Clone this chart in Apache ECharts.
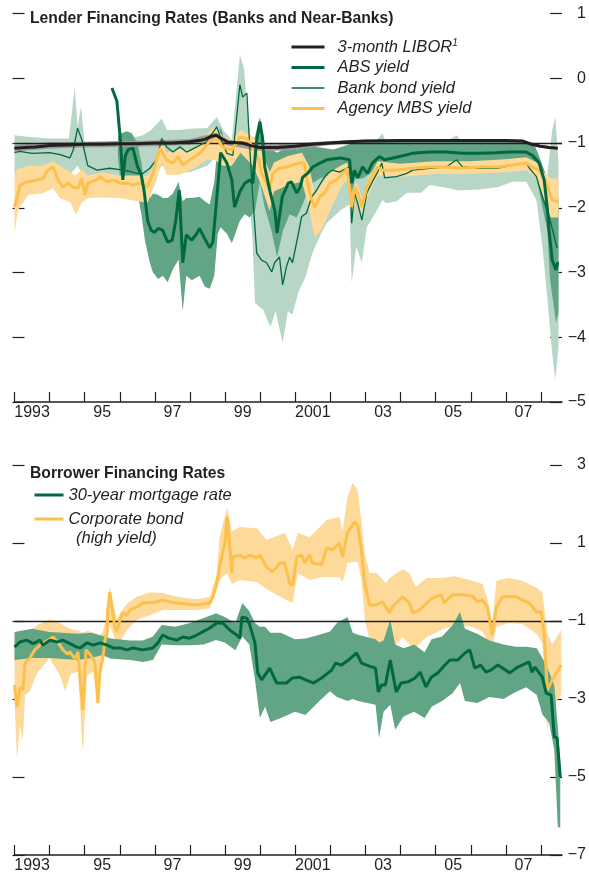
<!DOCTYPE html>
<html>
<head>
<meta charset="UTF-8">
<title>Lender and Borrower Financing Rates</title>
<script src="https://cdn.jsdelivr.net/npm/echarts@6.0.0/dist/echarts.min.js"></script>
<style>
    html, body { margin: 0; padding: 0; background: #fff; }
    #chart { width: 589px; height: 881px; }
</style>
</head>
<body>
<div id="chart"></div>
<script>
// ---- data (decimal year, value) ----
const years = ['1993','1994','1995','1996','1997','1998','1999','2000','2001','2002','2003','2004','2005','2006','2007'];
const xLabels = ['1993','','95','','97','','99','','2001','','03','','05','','07'];

// top panel
const liborLine = [[1993.0,-1.08],[1993.3,-1.07],[1993.6,-1.06],[1994.0,-1.04],[1994.5,-1.03],[1995.0,-1.02],[1995.5,-1.02],[1996.0,-1.01],[1996.5,-1.01],[1997.0,-1.0],[1997.5,-1.0],[1998.0,-0.98],[1998.4,-0.95],[1998.6,-0.9],[1998.75,-0.88],[1998.9,-0.93],[1999.1,-0.99],[1999.5,-1.0],[1999.75,-1.04],[2000.0,-1.07],[2000.5,-1.07],[2001.0,-1.05],[2001.5,-1.02],[2002.0,-1.0],[2002.5,-0.98],[2003.0,-0.97],[2004.0,-0.96],[2005.0,-0.96],[2006.0,-0.96],[2007.0,-0.96],[2007.5,-0.97],[2007.75,-1.02],[2008.0,-1.05],[2008.25,-1.07],[2008.5,-1.08]];
const liborBand = [[1993.0,-1.13,-1.03],[1994.0,-1.09,-0.99],[1995.0,-1.07,-0.98],[1996.0,-1.06,-0.97],[1997.0,-1.05,-0.96],[1998.0,-1.03,-0.94],[1998.75,-0.93,-0.84],[1999.1,-1.04,-0.95],[1999.75,-1.1,-0.99],[2000.0,-1.12,-1.02],[2000.5,-1.12,-1.02],[2001.0,-1.1,-1.0],[2002.0,-1.03,-0.97],[2003.0,-0.99,-0.95],[2007.5,-0.99,-0.95],[2008.0,-1.07,-1.03],[2008.5,-1.1,-1.06]];

const absLine = [[1995.78,-0.15],[1995.92,-0.35],[1996.02,-0.95],[1996.09,-1.57],[1996.16,-1.2],[1996.25,-1.1],[1996.38,-1.08],[1996.5,-1.35],[1996.62,-1.5],[1996.7,-1.75],[1996.8,-2.2],[1996.9,-2.35],[1997.0,-2.38],[1997.1,-2.32],[1997.23,-2.35],[1997.37,-2.53],[1997.5,-2.5],[1997.6,-2.2],[1997.7,-1.73],[1997.8,-2.85],[1997.9,-2.42],[1998.06,-2.5],[1998.2,-2.4],[1998.28,-2.32],[1998.4,-2.45],[1998.57,-2.62],[1998.66,-2.53],[1998.77,-1.85],[1998.88,-1.15],[1999.06,-1.31],[1999.2,-1.57],[1999.28,-1.99],[1999.43,-1.75],[1999.57,-1.62],[1999.71,-1.57],[1999.8,-1.62],[1999.9,-1.0],[2000.0,-0.67],[2000.07,-0.9],[2000.14,-1.37],[2000.29,-1.75],[2000.43,-2.05],[2000.49,-2.39],[2000.64,-1.83],[2000.81,-1.62],[2000.9,-1.6],[2001.05,-1.77],[2001.15,-1.68],[2001.22,-1.53],[2001.36,-1.47],[2001.51,-1.37],[2001.71,-1.31],[2001.91,-1.26],[2002.28,-1.23],[2002.56,-1.26],[2002.62,-1.62],[2002.7,-1.42],[2002.79,-1.54],[2002.93,-1.37],[2003.07,-1.47],[2003.21,-1.31],[2003.41,-1.21],[2003.56,-1.26],[2003.9,-1.22],[2004.35,-1.16],[2004.84,-1.14],[2005.32,-1.14],[2005.78,-1.16],[2006.27,-1.16],[2006.75,-1.15],[2007.12,-1.14],[2007.6,-1.14],[2007.77,-1.19],[2007.97,-1.31],[2008.11,-1.57],[2008.2,-2.0],[2008.25,-2.35],[2008.34,-2.81],[2008.45,-2.96],[2008.5,-2.84]];
const absBand = [[1995.95,-1.2,-0.9],[1996.05,-1.75,-0.85],[1996.2,-1.8,-0.82],[1996.35,-1.7,-0.85],[1996.5,-1.75,-1.0],[1996.62,-2.1,-1.3],[1996.72,-2.5,-1.75],[1996.86,-2.85,-1.85],[1996.95,-3.0,-1.78],[1997.1,-3.1,-1.8],[1997.23,-3.05,-1.85],[1997.37,-3.15,-1.85],[1997.52,-2.95,-1.78],[1997.68,-2.8,-1.6],[1997.8,-3.6,-1.9],[1997.9,-3.05,-1.85],[1998.06,-3.12,-1.85],[1998.28,-3.05,-1.83],[1998.43,-3.22,-1.9],[1998.57,-3.25,-1.95],[1998.7,-3.05,-1.6],[1998.8,-2.4,-1.0],[1998.88,-2.3,-0.75],[1999.06,-2.4,-1.1],[1999.2,-2.55,-1.15],[1999.43,-2.2,-1.1],[1999.57,-2.1,-1.1],[1999.71,-2.15,-1.1],[1999.86,-2.05,-0.9],[2000.0,-1.6,-0.6],[2000.14,-2.0,-1.0],[2000.33,-2.35,-1.1],[2000.49,-2.76,-1.15],[2000.66,-2.35,-1.1],[2000.85,-2.1,-1.05],[2001.05,-2.15,-1.1],[2001.22,-1.95,-1.05],[2001.43,-1.65,-1.05],[2001.71,-1.55,-1.07],[2002.1,-1.47,-1.1],[2002.56,-1.45,-1.02],[2002.62,-1.78,-1.0],[2002.72,-1.55,-1.0],[2002.93,-1.55,-0.98],[2003.2,-1.45,-0.97],[2003.41,-1.39,-0.95],[2004.0,-1.37,-0.95],[2004.84,-1.31,-0.95],[2005.5,-1.33,-0.95],[2006.3,-1.31,-0.95],[2007.0,-1.31,-0.95],[2007.6,-1.31,-0.97],[2007.85,-1.42,-1.05],[2008.0,-1.83,-1.25],[2008.2,-2.35,-1.55],[2008.28,-3.12,-1.65],[2008.4,-3.58,-1.7],[2008.45,-3.78,-1.73],[2008.52,-3.62,-1.85]];

const bankLine = [[1993.0,-1.15],[1993.15,-1.13],[1993.5,-1.16],[1994.0,-1.15],[1994.3,-1.18],[1994.58,-1.23],[1994.68,-1.1],[1994.8,-0.77],[1994.92,-0.95],[1995.09,-1.35],[1995.35,-1.42],[1995.72,-1.39],[1996.0,-1.41],[1996.29,-1.44],[1996.49,-1.47],[1996.66,-1.47],[1996.86,-1.39],[1997.06,-1.25],[1997.2,-0.93],[1997.34,-1.06],[1997.52,-1.14],[1997.72,-1.06],[1997.91,-1.14],[1998.2,-1.06],[1998.48,-0.98],[1998.77,-0.75],[1998.91,-0.97],[1999.06,-1.16],[1999.23,-1.19],[1999.43,-0.1],[1999.51,-0.29],[1999.63,-0.23],[1999.71,-1.06],[1999.79,-1.77],[1999.91,-2.7],[2000.05,-2.81],[2000.19,-2.85],[2000.34,-2.99],[2000.42,-2.85],[2000.56,-2.76],[2000.65,-3.19],[2000.76,-2.91],[2000.85,-2.76],[2000.93,-2.85],[2001.08,-2.45],[2001.19,-2.14],[2001.33,-2.08],[2001.48,-1.83],[2001.62,-1.73],[2001.79,-1.57],[2001.93,-1.47],[2002.07,-1.42],[2002.27,-1.45],[2002.47,-1.39],[2002.56,-1.37],[2002.62,-2.24],[2002.7,-1.77],[2002.79,-1.93],[2002.91,-2.19],[2003.05,-1.77],[2003.19,-1.62],[2003.34,-1.47],[2003.48,-1.31],[2003.56,-1.54],[2003.9,-1.52],[2004.19,-1.47],[2004.36,-1.42],[2004.84,-1.39],[2005.32,-1.37],[2005.61,-1.26],[2005.78,-1.37],[2006.27,-1.39],[2006.75,-1.39],[2007.2,-1.34],[2007.6,-1.31],[2007.69,-1.39],[2007.89,-1.52],[2008.06,-1.83],[2008.26,-2.15],[2008.4,-2.45],[2008.48,-2.62]];
const bankBand = [[1993.0,-1.5,-0.88],[1993.3,-1.45,-0.9],[1994.0,-1.45,-0.93],[1994.55,-1.5,-0.93],[1994.72,-1.4,-0.14],[1994.8,-1.35,-0.75],[1994.9,-1.45,-0.44],[1995.0,-1.6,-1.0],[1995.3,-1.7,-1.0],[1996.0,-1.7,-0.97],[1996.66,-1.75,-0.88],[1996.9,-1.6,-0.8],[1997.2,-1.35,-0.62],[1997.35,-1.4,-0.8],[1997.7,-1.45,-0.8],[1998.0,-1.45,-0.78],[1998.5,-1.35,-0.77],[1998.77,-1.2,-0.6],[1998.95,-1.4,-0.8],[1999.2,-1.5,-0.95],[1999.43,-1.2,0.36],[1999.55,-1.4,0.15],[1999.65,-1.5,-0.6],[1999.79,-2.5,-1.1],[1999.86,-3.47,-1.1],[2000.1,-3.58,-1.15],[2000.3,-3.84,-1.15],[2000.45,-3.6,-1.15],[2000.65,-4.09,-1.15],[2000.8,-3.6,-1.15],[2000.93,-3.65,-1.15],[2001.1,-3.3,-1.1],[2001.3,-3.07,-1.1],[2001.5,-2.7,-1.1],[2001.7,-2.45,-1.1],[2001.9,-2.24,-1.1],[2002.1,-2.14,-1.1],[2002.3,-2.04,-1.1],[2002.56,-1.95,-1.05],[2002.62,-3.16,-1.1],[2002.75,-2.6,-1.1],[2002.91,-2.85,-1.1],[2003.05,-2.3,-1.05],[2003.34,-2.04,-0.95],[2003.5,-1.88,-0.85],[2003.6,-1.93,-1.0],[2003.9,-1.9,-1.0],[2004.2,-1.77,-1.0],[2004.6,-1.77,-1.0],[2004.84,-1.65,-1.0],[2005.4,-1.7,-0.95],[2005.61,-1.73,-0.88],[2005.78,-1.73,-1.0],[2006.27,-1.72,-1.0],[2006.8,-1.68,-1.0],[2007.2,-1.6,-1.0],[2007.6,-1.6,-1.0],[2007.89,-1.88,-1.1],[2008.06,-2.6,-1.4],[2008.2,-3.38,-1.5],[2008.34,-4.25,-0.8],[2008.43,-4.66,-0.6],[2008.52,-4.15,-1.3]];

const mbsLine = [[1993.0,-1.99],[1993.16,-1.65],[1993.36,-1.6],[1993.64,-1.57],[1993.81,-1.55],[1993.95,-1.42],[1994.1,-1.37],[1994.24,-1.57],[1994.38,-1.68],[1994.52,-1.62],[1994.67,-1.68],[1994.81,-1.7],[1994.92,-1.55],[1995.01,-1.8],[1995.09,-1.62],[1995.35,-1.57],[1995.44,-1.52],[1995.64,-1.6],[1995.81,-1.57],[1996.01,-1.62],[1996.21,-1.62],[1996.38,-1.65],[1996.58,-1.62],[1996.78,-1.68],[1996.95,-1.47],[1997.15,-1.08],[1997.34,-1.26],[1997.52,-1.31],[1997.66,-1.21],[1997.8,-1.34],[1998.0,-1.26],[1998.2,-1.19],[1998.37,-1.11],[1998.57,-0.97],[1998.77,-0.93],[1998.94,-1.06],[1999.2,-1.11],[1999.43,-0.91],[1999.63,-0.93],[1999.79,-1.06],[1999.96,-1.24],[2000.05,-1.47],[2000.19,-1.62],[2000.28,-1.73],[2000.37,-1.47],[2000.56,-1.39],[2000.76,-1.37],[2000.93,-1.34],[2001.13,-1.31],[2001.27,-1.31],[2001.36,-1.62],[2001.48,-1.88],[2001.56,-2.0],[2001.71,-1.83],[2001.85,-1.77],[2002.0,-1.62],[2002.19,-1.57],[2002.36,-1.47],[2002.5,-1.39],[2002.62,-1.99],[2002.7,-1.68],[2002.79,-1.77],[2002.91,-1.99],[2003.05,-1.68],[2003.19,-1.52],[2003.36,-1.37],[2003.5,-1.42],[2003.9,-1.42],[2004.36,-1.39],[2004.84,-1.37],[2005.32,-1.37],[2005.78,-1.39],[2006.27,-1.37],[2006.75,-1.37],[2007.2,-1.34],[2007.6,-1.31],[2007.77,-1.37],[2007.97,-1.42],[2008.17,-1.62],[2008.34,-1.88],[2008.5,-1.91]];
const mbsBand = [[1993.0,-2.4,-1.45],[1993.1,-2.04,-1.4],[1993.4,-1.8,-1.35],[1993.8,-1.78,-1.35],[1994.1,-1.7,-1.28],[1994.3,-1.85,-1.35],[1994.6,-1.92,-1.45],[1994.75,-2.11,-1.5],[1994.92,-1.92,-1.4],[1995.1,-1.85,-1.5],[1995.5,-1.84,-1.45],[1996.0,-1.85,-1.5],[1996.5,-1.9,-1.5],[1996.8,-1.92,-1.5],[1997.05,-1.58,-1.3],[1997.2,-1.3,-0.96],[1997.34,-1.49,-1.15],[1997.7,-1.49,-1.1],[1998.1,-1.4,-1.1],[1998.5,-1.26,-0.85],[1998.7,-1.26,-0.75],[1998.95,-1.35,-0.9],[1999.2,-1.35,-0.95],[1999.45,-1.15,-0.8],[1999.8,-1.35,-0.9],[2000.0,-1.6,-1.05],[2000.28,-2.05,-1.45],[2000.4,-1.75,-1.3],[2000.8,-1.65,-1.2],[2001.2,-1.6,-1.15],[2001.4,-2.0,-1.35],[2001.56,-2.45,-1.75],[2001.75,-2.35,-1.65],[2002.0,-2.05,-1.45],[2002.3,-1.7,-1.35],[2002.5,-1.55,-1.3],[2002.62,-2.1,-1.85],[2002.75,-1.85,-1.6],[2002.91,-2.1,-1.85],[2003.1,-1.8,-1.55],[2003.36,-1.5,-1.28],[2004.0,-1.52,-1.32],[2005.0,-1.48,-1.28],[2006.0,-1.48,-1.28],[2007.0,-1.45,-1.25],[2007.6,-1.42,-1.22],[2007.9,-1.55,-1.3],[2008.1,-1.85,-1.45],[2008.3,-2.15,-1.55],[2008.52,-2.15,-1.55]];

// bottom panel
const mortgageLine = [[1993.0,-1.67],[1993.15,-1.54],[1993.35,-1.49],[1993.53,-1.58],[1993.73,-1.49],[1993.81,-1.62],[1994.01,-1.49],[1994.21,-1.54],[1994.38,-1.49],[1994.58,-1.58],[1994.78,-1.67],[1994.87,-1.69],[1995.07,-1.56],[1995.24,-1.62],[1995.44,-1.56],[1995.64,-1.62],[1995.81,-1.69],[1996.01,-1.69],[1996.21,-1.74],[1996.38,-1.69],[1996.66,-1.74],[1996.95,-1.69],[1997.09,-1.56],[1997.23,-1.36],[1997.4,-1.44],[1997.63,-1.49],[1997.8,-1.41],[1998.0,-1.44],[1998.2,-1.36],[1998.37,-1.28],[1998.57,-1.18],[1998.77,-1.05],[1998.94,-1.05],[1999.14,-1.23],[1999.34,-1.36],[1999.43,-1.44],[1999.49,-0.9],[1999.63,-0.93],[1999.71,-1.1],[1999.86,-1.56],[1999.94,-2.33],[2000.05,-2.51],[2000.19,-2.33],[2000.28,-2.21],[2000.48,-2.59],[2000.76,-2.59],[2000.93,-2.46],[2001.13,-2.44],[2001.3,-2.51],[2001.53,-2.59],[2001.76,-2.46],[2002.05,-2.26],[2002.16,-2.08],[2002.33,-2.13],[2002.53,-2.0],[2002.76,-1.82],[2002.9,-2.08],[2003.1,-2.15],[2003.3,-2.21],[2003.38,-2.82],[2003.47,-2.64],[2003.58,-2.64],[2003.72,-2.0],[2003.89,-2.82],[2004.03,-2.59],[2004.23,-2.56],[2004.43,-2.46],[2004.57,-2.31],[2004.74,-2.69],[2004.89,-2.44],[2005.08,-2.33],[2005.28,-2.13],[2005.42,-2.0],[2005.65,-2.0],[2005.85,-1.82],[2005.99,-1.74],[2006.13,-2.21],[2006.3,-2.13],[2006.45,-2.31],[2006.59,-2.26],[2006.79,-2.13],[2007.13,-2.33],[2007.36,-2.18],[2007.56,-2.1],[2007.68,-2.05],[2007.76,-2.31],[2007.85,-2.18],[2007.91,-2.26],[2008.06,-2.44],[2008.17,-2.85],[2008.31,-2.9],[2008.4,-3.97],[2008.48,-4.0],[2008.57,-5.0]];
const mortgageBand = [[1993.0,-2.0,-1.28],[1993.5,-1.95,-1.2],[1994.0,-1.95,-1.28],[1994.8,-2.0,-1.33],[1995.2,-1.95,-1.3],[1995.5,-1.87,-1.38],[1995.75,-1.97,-1.45],[1996.3,-2.0,-1.5],[1996.66,-2.05,-1.5],[1996.95,-2.0,-1.4],[1997.2,-1.6,-1.1],[1997.6,-1.62,-1.15],[1998.0,-1.62,-1.05],[1998.4,-1.6,-0.92],[1998.75,-1.49,-0.8],[1999.0,-1.55,-0.9],[1999.3,-1.75,-1.05],[1999.5,-1.4,-0.54],[1999.7,-1.6,-0.75],[1999.86,-2.5,-1.05],[2000.0,-3.49,-1.15],[2000.15,-3.2,-1.15],[2000.3,-3.59,-1.3],[2000.6,-3.49,-1.3],[2001.0,-3.33,-1.47],[2001.3,-3.41,-1.45],[2001.7,-3.05,-1.35],[2002.0,-2.8,-1.27],[2002.2,-2.95,-1.05],[2002.5,-3.05,-0.9],[2002.65,-3.0,-1.3],[2002.8,-3.05,-1.35],[2003.3,-3.15,-1.47],[2003.4,-4.0,-1.55],[2003.53,-3.33,-1.5],[2003.72,-3.15,-0.97],[2003.86,-3.79,-1.6],[2004.1,-3.45,-1.7],[2004.4,-3.33,-1.6],[2004.7,-3.49,-1.8],[2004.9,-3.2,-1.47],[2005.2,-3.05,-1.4],[2005.5,-2.85,-1.1],[2005.71,-2.59,-0.77],[2005.85,-3.05,-1.2],[2006.2,-3.1,-1.33],[2006.55,-2.95,-1.5],[2006.95,-3.0,-1.6],[2007.3,-2.82,-1.66],[2007.6,-2.7,-1.66],[2007.9,-2.9,-1.7],[2008.06,-3.4,-1.95],[2008.25,-3.6,-2.3],[2008.4,-4.3,-2.65],[2008.5,-6.28,-3.72],[2008.57,-6.3,-4.6]];

const corpLine = [[1993.0,-2.64],[1993.07,-3.2],[1993.16,-2.7],[1993.24,-2.77],[1993.3,-2.08],[1993.44,-1.95],[1993.58,-1.74],[1993.73,-1.62],[1993.95,-1.5],[1994.1,-1.41],[1994.3,-1.62],[1994.38,-1.74],[1994.52,-1.85],[1994.58,-1.79],[1994.72,-1.97],[1994.81,-1.79],[1994.95,-3.28],[1995.04,-1.74],[1995.15,-1.85],[1995.29,-2.05],[1995.38,-3.1],[1995.44,-2.3],[1995.52,-1.95],[1995.58,-1.5],[1995.64,-1.31],[1995.66,-0.72],[1995.72,-0.26],[1995.78,-0.64],[1995.86,-1.15],[1995.92,-1.28],[1996.01,-0.97],[1996.09,-0.79],[1996.21,-0.85],[1996.29,-0.72],[1996.49,-0.64],[1996.66,-0.54],[1997.06,-0.51],[1997.23,-0.46],[1997.43,-0.51],[1997.63,-0.54],[1998.2,-0.59],[1998.57,-0.54],[1998.66,-0.38],[1998.77,-0.03],[1998.85,0.38],[1999.0,1.0],[1999.07,1.67],[1999.14,0.9],[1999.2,0.23],[1999.23,0.64],[1999.43,0.69],[1999.57,0.62],[1999.72,0.69],[1999.91,0.62],[2000.0,0.69],[2000.19,0.38],[2000.36,0.26],[2000.48,0.38],[2000.56,0.49],[2000.71,0.49],[2000.85,-0.05],[2000.94,-0.08],[2001.05,0.64],[2001.19,0.69],[2001.28,0.49],[2001.42,0.69],[2001.5,0.49],[2001.76,0.44],[2001.91,0.87],[2002.07,0.82],[2002.27,1.0],[2002.36,0.64],[2002.5,1.26],[2002.7,1.54],[2002.79,1.46],[2002.9,0.82],[2002.99,-0.03],[2003.13,-0.59],[2003.33,-0.59],[2003.5,-0.51],[2003.7,-0.79],[2003.78,-0.64],[2004.07,-0.38],[2004.27,-0.54],[2004.36,-0.79],[2004.56,-0.72],[2004.76,-0.54],[2004.92,-0.41],[2005.17,-0.33],[2005.26,-0.54],[2005.49,-0.33],[2005.78,-0.33],[2006.06,-0.36],[2006.21,-0.51],[2006.35,-0.46],[2006.49,-0.64],[2006.63,-1.36],[2006.75,-0.64],[2006.92,-0.38],[2007.32,-0.38],[2007.49,-0.46],[2007.69,-0.54],[2007.89,-0.77],[2008.03,-0.77],[2008.11,-1.31],[2008.2,-2.77],[2008.34,-2.51],[2008.6,-2.13]];
const corpBand = [[1993.0,-3.0,-1.6],[1993.07,-4.56,-1.9],[1993.15,-3.7,-1.5],[1993.24,-4.05,-1.4],[1993.3,-2.9,-1.3],[1993.44,-2.8,-1.25],[1993.65,-2.33,-1.1],[1994.0,-1.95,-0.97],[1994.3,-2.4,-1.05],[1994.45,-2.8,-1.15],[1994.6,-2.35,-1.2],[1994.81,-2.3,-1.25],[1994.95,-4.38,-1.3],[1995.07,-2.4,-1.25],[1995.25,-2.3,-1.3],[1995.38,-3.2,-1.5],[1995.52,-1.8,-1.25],[1995.64,-1.5,-0.9],[1995.72,-1.1,-0.1],[1995.8,-1.3,-0.5],[1995.92,-1.6,-0.95],[1996.01,-1.54,-0.8],[1996.21,-1.23,-0.55],[1996.49,-0.97,-0.38],[1996.86,-0.85,-0.26],[1997.23,-0.72,-0.28],[1997.63,-0.72,-0.38],[1998.2,-0.72,-0.44],[1998.57,-0.67,-0.38],[1998.77,-0.2,0.2],[1998.85,0.05,1.15],[1999.07,0.23,1.92],[1999.2,-0.05,1.3],[1999.43,0.05,1.41],[1999.91,0.0,1.38],[2000.19,-0.18,1.08],[2000.71,-0.44,1.26],[2000.94,-0.54,0.82],[2001.08,0.23,1.26],[2001.42,0.05,1.15],[2001.8,0.13,1.49],[2001.91,0.13,1.59],[2002.27,0.13,1.67],[2002.36,0.0,1.3],[2002.5,0.49,2.18],[2002.65,0.51,2.54],[2002.79,0.51,2.36],[2002.9,0.05,1.51],[2003.0,-1.0,0.7],[2003.13,-1.49,0.23],[2003.33,-1.56,0.23],[2003.6,-1.67,-0.03],[2003.7,-1.82,0.1],[2004.07,-1.41,0.33],[2004.27,-1.6,0.23],[2004.45,-1.67,-0.13],[2004.76,-1.41,0.1],[2005.17,-1.23,0.1],[2005.55,-1.1,0.15],[2006.06,-1.15,0.03],[2006.35,-1.28,-0.05],[2006.49,-1.5,-0.41],[2006.63,-1.67,-1.05],[2006.75,-1.15,0.03],[2007.1,-1.05,0.1],[2007.49,-1.08,0.03],[2007.89,-1.33,-0.15],[2008.06,-1.56,-0.26],[2008.2,-3.79,-1.3],[2008.34,-3.2,-1.6],[2008.6,-2.9,-1.23]];

// ---- styling ----
const FONT = "'Liberation Sans', Arial, sans-serif";
const INK = '#231f20';
const GREEN = '#00693e';
const YELLOW = '#fcc04c';

const chart = echarts.init(document.getElementById('chart'));

// shaded range drawn as one polygon through the axis scales
function bandSeries(name, rows, color, xi, yi, z) {
    return {
        name: name, type: 'custom', xAxisIndex: xi, yAxisIndex: yi, z: z,
        silent: true, animation: false,
        encode: { x: 0, y: [1, 2] },
        data: rows,
        renderItem: function (params, api) {
            if (params.dataIndex !== 0) return null;
            const upper = rows.map(d => api.coord([d[0], d[2]]));
            const lower = rows.map(d => api.coord([d[0], d[1]])).reverse();
            return { type: 'polygon', shape: { points: upper.concat(lower) }, style: { fill: color } };
        }
    };
}

function lineSeries(name, rows, color, width, xi, yi, z) {
    return {
        name: name, type: 'line', xAxisIndex: xi, yAxisIndex: yi, z: z,
        data: rows, symbol: 'none', showSymbol: false, silent: true,
        lineStyle: { color: color, width: width }, itemStyle: { color: color }
    };
}

function refLine(width) {
    return {
        silent: true, symbol: ['none', 'none'], label: { show: false },
        lineStyle: { color: INK, width: width, type: 'solid' },
        data: [{ yAxis: -1 }]
    };
}

const minus = v => (v < 0 ? '\u2212' + Math.abs(v) : String(v));
const labelText = { fontFamily: FONT, fontSize: 16, color: INK };

function dataX(grid) {
    return {
        type: 'value', gridIndex: grid, min: 1993, max: 2008.62,
        axisLine: { show: true, onZero: false, lineStyle: { color: INK, width: 1.5 } },
        axisTick: { show: false }, axisLabel: { show: false }, splitLine: { show: false }
    };
}
function yearX(grid) {
    return {
        type: 'category', gridIndex: grid, data: years, boundaryGap: true,
        axisLine: { show: false, onZero: false },
        axisTick: { show: true, inside: true, length: 10, interval: 0, lineStyle: { color: INK, width: 1.2 } },
        axisLabel: Object.assign({ interval: 0, margin: 3, formatter: (v, i) => xLabels[i] }, labelText),
        splitLine: { show: false }
    };
}
function rightY(grid, min, max, step) {
    return {
        type: 'value', gridIndex: grid, position: 'right', min: min, max: max, interval: step,
        axisLine: { show: false },
        axisTick: { show: true, inside: true, length: 12, lineStyle: { color: INK, width: 1.2 } },
        axisLabel: Object.assign({ margin: 24, align: 'right', formatter: minus }, labelText),
        splitLine: { show: false }
    };
}
function leftY(grid, min, max, step) {
    return {
        type: 'value', gridIndex: grid, position: 'left', offset: 2, min: min, max: max, interval: step,
        axisLine: { show: false },
        axisTick: { show: true, inside: true, length: 12, lineStyle: { color: INK, width: 1.2 } },
        axisLabel: { show: false }, splitLine: { show: false }
    };
}

const legendText = {
    fontFamily: FONT, fontSize: 16.5, fontStyle: 'italic', color: INK, lineHeight: 20,
    rich: { sup: { fontFamily: FONT, fontSize: 10, fontStyle: 'italic', color: INK, padding: [0, 0, 8, 0] } }
};
const noDot = { opacity: 0 };

const option = {
    animation: false,
    backgroundColor: '#fff',
    title: [
        { text: 'Lender Financing Rates (Banks and Near-Banks)', left: 30, top: 11, padding: 0,
          textStyle: { fontFamily: FONT, fontSize: 15.7, fontWeight: 'bold', color: INK } },
        { text: 'Borrower Financing Rates', left: 30, top: 466, padding: 0,
          textStyle: { fontFamily: FONT, fontSize: 15.7, fontWeight: 'bold', color: INK } },
        { text: '(high yield)', left: 76, top: 530, padding: 0,
          textStyle: { fontFamily: FONT, fontSize: 16.5, fontStyle: 'italic', fontWeight: 'normal', color: INK } }
    ],
    legend: [
        {
            orient: 'vertical', left: 290, top: 37, itemWidth: 33, itemHeight: 14, itemGap: 0.5,
            selectedMode: false, padding: 0,
            textStyle: Object.assign({ padding: [0, 0, 0, 8] }, legendText),
            formatter: name => (name === '3-month LIBOR' ? '3-month LIBOR{sup|1}' : name),
            data: [
                { name: '3-month LIBOR', itemStyle: noDot, lineStyle: { width: 3, color: INK } },
                { name: 'ABS yield', itemStyle: noDot, lineStyle: { width: 3, color: GREEN } },
                { name: 'Bank bond yield', itemStyle: noDot, lineStyle: { width: 1.3, color: GREEN } },
                { name: 'Agency MBS yield', itemStyle: noDot, lineStyle: { width: 3, color: YELLOW } }
            ]
        },
        {
            orient: 'vertical', left: 33, top: 485, itemWidth: 29, itemHeight: 14, itemGap: 4,
            selectedMode: false, padding: 0,
            textStyle: legendText,
            data: [
                { name: '30-year mortgage rate', itemStyle: noDot, lineStyle: { width: 3, color: GREEN } },
                { name: 'Corporate bond', itemStyle: noDot, lineStyle: { width: 3, color: YELLOW } }
            ]
        }
    ],
    grid: [
        { left: 14.5, right: 26, top: 13.5, height: 388.5 },
        { left: 14.5, width: 526.5, top: 13.5, height: 388.5 },
        { left: 14.5, right: 26, top: 465, height: 390 },
        { left: 14.5, width: 526.5, top: 465, height: 390 }
    ],
    xAxis: [dataX(0), yearX(1), dataX(2), yearX(3)],
    yAxis: [
        rightY(0, -5, 1, 1), leftY(0, -5, 1, 1), { type: 'value', gridIndex: 1, show: false },
        rightY(2, -7, 3, 2), leftY(2, -7, 3, 2), { type: 'value', gridIndex: 3, show: false }
    ],
    series: [
        // top panel
        bandSeries('bank band', bankBand, '#b7d6c6', 0, 0, 1),
        bandSeries('ABS band', absBand, '#62a585', 0, 0, 2),
        bandSeries('MBS band', mbsBand, '#fdd99a', 0, 0, 3),
        bandSeries('LIBOR band', liborBand, '#9b9b9b', 0, 0, 4),
        lineSeries('Bank bond yield', bankLine, GREEN, 1.3, 0, 0, 5),
        lineSeries('Agency MBS yield', mbsLine, YELLOW, 3, 0, 0, 6),
        lineSeries('ABS yield', absLine, GREEN, 3, 0, 0, 7),
        Object.assign(lineSeries('3-month LIBOR', liborLine, INK, 3, 0, 0, 8), { markLine: refLine(1.3) }),
        // bottom panel
        bandSeries('corporate band', corpBand, '#fdd99a', 2, 3, 1),
        bandSeries('mortgage band', mortgageBand, '#62a585', 2, 3, 2),
        lineSeries('Corporate bond', corpLine, YELLOW, 3, 2, 3, 5),
        Object.assign(lineSeries('30-year mortgage rate', mortgageLine, GREEN, 3, 2, 3, 6), { markLine: refLine(1.3) })
    ]
};

chart.setOption(option);
window.addEventListener('resize', () => chart.resize());
</script>
</body>
</html>
